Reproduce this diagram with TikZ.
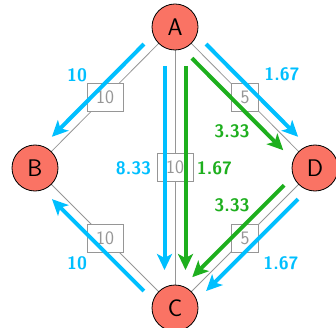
\documentclass[tikz,border=0pt]{standalone}
\usepackage{fontspec}
\usetikzlibrary{arrows.meta}
\definecolor{flowblue}{RGB}{0,191,255}
\definecolor{flowgreen}{RGB}{30,175,30}
\definecolor{nodefill}{RGB}{250,115,100}
\definecolor{edgegray}{RGB}{150,150,150}
\tikzset{
  vertex/.style={circle, draw=black, line width=0.8pt, fill=nodefill, minimum size=46pt, inner sep=0pt,
    font=\sffamily\fontsize{24}{28}\selectfont},
  edge/.style={draw=edgegray, line width=0.8pt},
  wbox/.style={draw=edgegray, fill=white, text=edgegray, line width=0.8pt, inner xsep=9pt, inner ysep=0pt,
    minimum height=28pt, font=\sffamily\fontsize{19}{22}\selectfont},
  flowb/.style={line width=4pt, draw=flowblue, -{Stealth[length=16pt,width=15pt,inset=4pt]}},
  flowg/.style={line width=4pt, draw=flowgreen, -{Stealth[length=16pt,width=15pt,inset=4pt]}},
  labb/.style={text=flowblue, inner sep=0pt, font=\sffamily\bfseries\fontsize{18}{21}\selectfont},
  labg/.style={text=flowgreen, inner sep=0pt, font=\sffamily\bfseries\fontsize{18}{21}\selectfont}
}
\begin{document}
\begin{tikzpicture}[x=1pt,y=-1pt]
\useasboundingbox (0,0) rectangle (336,328);
% edges
\draw[edge] (175,27) coordinate (cA) -- (35,168) coordinate (cB);
\draw[edge] (cA) -- (175,308) coordinate (cC);
\draw[edge] (cA) -- (315,168) coordinate (cD);
\draw[edge] (cB) -- (cC);
\draw[edge] (cD) -- (cC);
% nodes
\node[vertex] (A) at (cA) {A};
\node[vertex] (B) at (cB) {B};
\node[vertex] (C) at (cC) {C};
\node[vertex] (D) at (cD) {D};
% capacity boxes
\path (A) -- (B) node[wbox, midway] (wAB) {10};
\path (A) -- (C) node[wbox, midway] (wAC) {10};
\path (A) -- (D) node[wbox, midway] (wAD) {5};
\path (B) -- (C) node[wbox, midway] (wBC) {10};
\path (D) -- (C) node[wbox, midway] (wDC) {5};
% flows
\draw[flowb, transform canvas={shift={(-7.07,-7.07)}}, shorten <=34pt, shorten >=34pt] (A.center) -- (B.center);
\draw[flowb, transform canvas={shift={(-7.07,7.07)}}, shorten <=34pt, shorten >=34pt] (C.center) -- (B.center);
\draw[flowb, transform canvas={shift={(-10.5,0)}}, shorten <=39pt, shorten >=38pt] (A.center) -- (C.center);
\draw[flowg, transform canvas={shift={(10.5,0)}}, shorten <=39pt, shorten >=38pt] (A.center) -- (C.center);
\draw[flowb, transform canvas={shift={(7.07,-7.07)}}, shorten <=34pt, shorten >=34pt] (A.center) -- (D.center);
\draw[flowg, transform canvas={shift={(-7.07,7.07)}}, shorten <=34pt, shorten >=35pt] (A.center) -- (D.center);
\draw[flowg, transform canvas={shift={(-6.8,-6.8)}}, shorten <=34pt, shorten >=34pt] (D.center) -- (C.center);
\draw[flowb, transform canvas={shift={(7.07,7.07)}}, shorten <=34pt, shorten >=34pt] (D.center) -- (C.center);
% flow labels
\node[labb] (lAB) at (77,75) {10};
\node[labb] (lCB) at (77,263) {10};
\node[labb] (lACb) at (133.5,168) {8.33};
\node[labg] (lACg) at (214.5,168) {1.67};
\node[labb] (lADb) at (282,74) {1.67};
\node[labg] (lADg) at (232,131) {3.33};
\node[labg] (lDCg) at (232,205) {3.33};
\node[labb] (lDCb) at (281,263) {1.67};
\end{tikzpicture}
\end{document}
